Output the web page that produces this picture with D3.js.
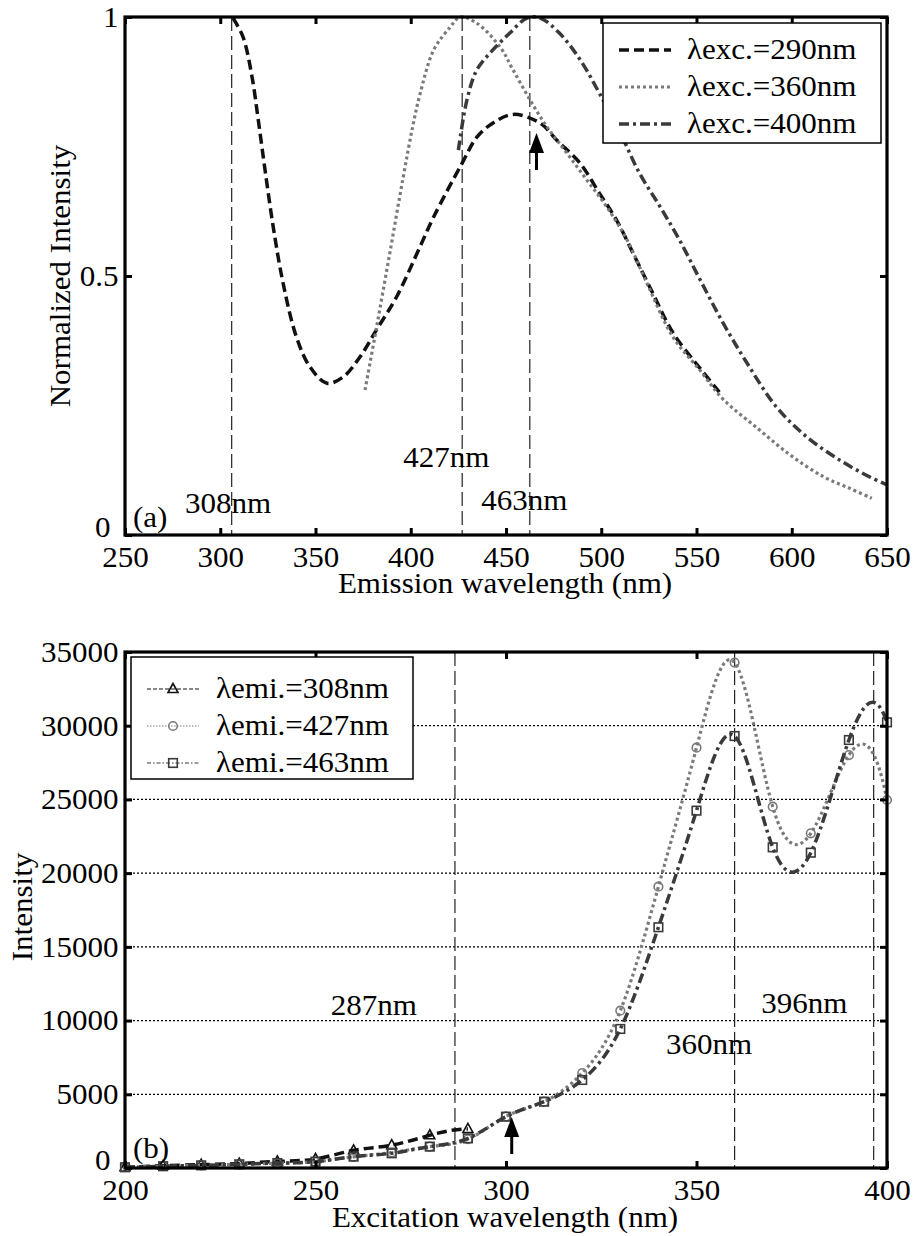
<!DOCTYPE html>
<html>
<head>
<meta charset="utf-8">
<script src="https://cdn.jsdelivr.net/npm/d3@7"></script>
<style>
  body { margin: 0; background: #fff; }
  svg text { font-family: "Liberation Serif", "Times New Roman", serif; fill: #000; }
</style>
</head>
<body>
<svg id="chart" width="915" height="1236"></svg>
<script>
// ---- panel (a): emission spectra, normalized ----
const exc290Wl  = [306.7, 312, 316.7, 320, 323.5, 327.8, 333, 340, 347, 356, 364.5, 373.4, 382, 392.6, 404.8, 412, 427, 434.7, 443, 453.8, 468, 476.7, 488.8, 499, 508, 516.7, 527, 537.7, 551.8, 562];
const exc290Val = [0.998, 0.961, 0.884, 0.80, 0.705, 0.595, 0.486, 0.382, 0.325, 0.293, 0.305, 0.344, 0.396, 0.46, 0.556, 0.614, 0.718, 0.768, 0.795, 0.812, 0.795, 0.762, 0.718, 0.66, 0.608, 0.544, 0.467, 0.39, 0.322, 0.276];

const exc360Wl  = [376, 382, 389, 396, 401, 405, 412, 420.6, 426, 434.7, 446.9, 453.7, 462.6, 471.5, 482, 492.5, 503, 513.5, 524, 537.7, 551.8, 564, 581.7, 599, 616.4, 630.5, 642];
const exc360Val = [0.28, 0.40, 0.544, 0.69, 0.788, 0.853, 0.936, 0.98, 1.0, 0.988, 0.942, 0.898, 0.84, 0.788, 0.737, 0.685, 0.633, 0.57, 0.486, 0.382, 0.318, 0.262, 0.207, 0.155, 0.113, 0.09, 0.071];

const exc400Wl  = [425, 429.5, 434.7, 443, 452, 461, 468, 478, 489, 499, 510, 520, 531, 541, 552, 564, 576.5, 592, 608, 625, 641, 650];
const exc400Val = [0.743, 0.84, 0.898, 0.936, 0.969, 0.998, 0.998, 0.969, 0.917, 0.853, 0.776, 0.699, 0.633, 0.57, 0.492, 0.409, 0.332, 0.247, 0.189, 0.145, 0.112, 0.097];

const emiXTicks = [250, 300, 350, 400, 450, 500, 550, 600, 650];
const emiYTicks = [0, 0.5, 1];
const emiMarks  = [306, 427, 462.5];
const emiMarkLabels = [
  { text: "308nm", wl: 281.5, v: 0.043 },
  { text: "427nm", wl: 396, v: 0.131 },
  { text: "463nm", wl: 437, v: 0.048 }
];
const emiLegend = ["λexc.=290nm", "λexc.=360nm", "λexc.=400nm"];
const emiArrow = { wl: 466, v: 0.776 };

// ---- panel (b): excitation spectra ----
const excWl = [200, 210, 220, 230, 240, 250, 260, 270, 280, 290, 300, 310, 320, 330, 340, 350, 360, 370, 380, 390, 400];
const emi308 = [50, 150, 230, 300, 450, 610, 1200, 1550, 2220, 2650];
const emi427 = [50, 120, 180, 250, 330, 430, 760, 1050, 1450, 1950, 3500, 4500, 6440, 10670, 19080, 28510, 34280, 24510, 22700, 28010, 24960];
const emi463 = [50, 120, 180, 250, 330, 430, 770, 1000, 1450, 2010, 3480, 4500, 5970, 9430, 16330, 24240, 29300, 21750, 21390, 29030, 30230];

const excXTicks = [200, 250, 300, 350, 400];
const excYTicks = [0, 5000, 10000, 15000, 20000, 25000, 30000, 35000];
const excGrid   = [5000, 10000, 15000, 20000, 25000, 30000];
const excMarks  = [286.6, 360, 396.5];
const excMarkLabels = [
  { text: "287nm", wl: 254, v: 10400 },
  { text: "360nm", wl: 342, v: 7700 },
  { text: "396nm", wl: 367, v: 10500 }
];
const excLegend = ["λemi.=308nm", "λemi.=427nm", "λemi.=463nm"];
const excArrow = { wl: 301.5, v: 3460 };

const FS = 29, SX = 1.07;
const svg = d3.select("#chart");

const styles = [
  { color: "#111", width: 3.5, dash: "10,5" },
  { color: "#7a7a7a", width: 3.2, dash: "3,3" },
  { color: "#3a3a3a", width: 3.5, dash: "10,4,3,4" }
];

// cubic spline (not-a-knot ends) as a d3 curve
function curveSpline(context) {
  let pts;
  return {
    areaStart() {}, areaEnd() {},
    lineStart() { pts = []; },
    point(x, y) { pts.push([+x, +y]); },
    lineEnd() {
      const n = pts.length;
      if (n < 4) {
        pts.forEach((p, i) => i ? context.lineTo(p[0], p[1]) : context.moveTo(p[0], p[1]));
        return;
      }
      const xs = pts.map(p => p[0]), ys = pts.map(p => p[1]);
      const h = d3.range(n - 1).map(i => xs[i + 1] - xs[i]);
      const A = d3.range(n).map(() => new Array(n).fill(0));
      const b = new Array(n).fill(0);
      A[0][0] = h[1]; A[0][1] = -(h[0] + h[1]); A[0][2] = h[0];
      A[n - 1][n - 3] = h[n - 2]; A[n - 1][n - 2] = -(h[n - 3] + h[n - 2]); A[n - 1][n - 1] = h[n - 3];
      for (let i = 1; i < n - 1; i++) {
        A[i][i - 1] = h[i - 1];
        A[i][i] = 2 * (h[i - 1] + h[i]);
        A[i][i + 1] = h[i];
        b[i] = 6 * ((ys[i + 1] - ys[i]) / h[i] - (ys[i] - ys[i - 1]) / h[i - 1]);
      }
      // gaussian elimination with partial pivoting
      for (let c = 0; c < n; c++) {
        let p = c;
        for (let r = c + 1; r < n; r++) if (Math.abs(A[r][c]) > Math.abs(A[p][c])) p = r;
        [A[c], A[p]] = [A[p], A[c]]; [b[c], b[p]] = [b[p], b[c]];
        for (let r = c + 1; r < n; r++) {
          const f = A[r][c] / A[c][c];
          if (!f) continue;
          for (let k = c; k < n; k++) A[r][k] -= f * A[c][k];
          b[r] -= f * b[c];
        }
      }
      const M = new Array(n).fill(0);
      for (let r = n - 1; r >= 0; r--) {
        let s = b[r];
        for (let k = r + 1; k < n; k++) s -= A[r][k] * M[k];
        M[r] = s / A[r][r];
      }
      const slope = d3.range(n).map(i => i < n - 1
        ? (ys[i + 1] - ys[i]) / h[i] - h[i] * (2 * M[i] + M[i + 1]) / 6
        : (ys[i] - ys[i - 1]) / h[i - 1] + h[i - 1] * (M[i - 1] + 2 * M[i]) / 6);
      context.moveTo(xs[0], ys[0]);
      for (let i = 0; i < n - 1; i++) {
        const d = h[i] / 3;
        context.bezierCurveTo(xs[i] + d, ys[i] + slope[i] * d,
          xs[i + 1] - d, ys[i + 1] - slope[i + 1] * d, xs[i + 1], ys[i + 1]);
      }
    }
  };
}

function label(g, x, y, text, anchor, rot) {
  return g.append("text")
    .attr("transform", `translate(${x},${y}) rotate(${rot || 0}) scale(${SX},1)`)
    .attr("text-anchor", anchor || "start")
    .attr("font-size", FS)
    .text(text);
}

function frame(g, x, y, w, h, xTicks, yTicks, yFmt) {
  const ax = (sel, axis) => {
    sel.call(axis);
    sel.select(".domain").remove();
    sel.selectAll(".tick line").attr("stroke", "#000").attr("stroke-width", 3);
  };
  const bottom = g.append("g").attr("transform", `translate(0,${h})`);
  ax(bottom, d3.axisBottom(x).tickValues(xTicks).tickSizeInner(-7).tickSizeOuter(0).tickPadding(11).tickFormat(d3.format("d")));
  bottom.selectAll("text").attr("font-size", FS).attr("transform", `scale(${SX},1)`);

  const top = g.append("g");
  ax(top, d3.axisTop(x).tickValues(xTicks).tickSizeInner(-7).tickSizeOuter(0).tickFormat(""));

  const left = g.append("g");
  ax(left, d3.axisLeft(y).tickValues(yTicks).tickSizeInner(-7).tickSizeOuter(0).tickPadding(6).tickFormat(yFmt));
  left.selectAll("text").attr("font-size", FS)
    .attr("transform", d => d === 0 ? `translate(-8,-8) scale(${SX},1)` : `scale(${SX},1)`);

  const right = g.append("g").attr("transform", `translate(${w},0)`);
  ax(right, d3.axisRight(y).tickValues(yTicks).tickSizeInner(-7).tickSizeOuter(0).tickFormat(""));

  g.append("rect").attr("width", w).attr("height", h)
    .attr("fill", "none").attr("stroke", "#000").attr("stroke-width", 3.2);
}

function refLines(g, x, h, marks) {
  g.selectAll(".ref").data(marks).enter().append("line")
    .attr("class", "ref")
    .attr("x1", d => x(d)).attr("x2", d => x(d))
    .attr("y1", 0).attr("y2", h)
    .attr("stroke", "#222").attr("stroke-width", 1.2)
    .attr("stroke-dasharray", "14,5");
}

function arrow(g, px, py) {
  g.append("line").attr("x1", px).attr("x2", px).attr("y1", py + 12).attr("y2", py + 37)
    .attr("stroke", "#000").attr("stroke-width", 3);
  g.append("path").attr("d", `M${px},${py} L${px - 7.5},${py + 20} L${px + 7.5},${py + 20} Z`).attr("fill", "#000");
}

function marker(g, kind, cx, cy, color) {
  if (kind === 0) {
    g.append("path").attr("d", `M${cx},${cy - 5.5} L${cx - 5},${cy + 3.5} L${cx + 5},${cy + 3.5} Z`)
      .attr("fill", "none").attr("stroke", color).attr("stroke-width", 1.6);
  } else if (kind === 1) {
    g.append("circle").attr("cx", cx).attr("cy", cy).attr("r", 4.3)
      .attr("fill", "none").attr("stroke", color).attr("stroke-width", 1.6);
  } else {
    g.append("rect").attr("x", cx - 4.3).attr("y", cy - 4.3).attr("width", 8.6).attr("height", 8.6)
      .attr("fill", "none").attr("stroke", color).attr("stroke-width", 1.6);
  }
}

// ================= panel (a) =================
{
  const m = { left: 125, top: 17 }, w = 762, h = 518;
  const g = svg.append("g").attr("transform", `translate(${m.left},${m.top})`);
  const x = d3.scaleLinear().domain([250, 650]).range([0, w]);
  const y = d3.scaleLinear().domain([0, 1]).range([h, 0]);

  refLines(g, x, h, emiMarks);

  const series = [[exc290Wl, exc290Val], [exc360Wl, exc360Val], [exc400Wl, exc400Val]];
  const line = d3.line().x(d => x(d[0])).y(d => y(d[1])).curve(d3.curveCatmullRom.alpha(0.5));
  series.forEach((s, i) => {
    g.append("path").datum(d3.zip(s[0], s[1]))
      .attr("d", line).attr("fill", "none")
      .attr("stroke", styles[i].color).attr("stroke-width", styles[i].width)
      .attr("stroke-dasharray", styles[i].dash);
  });

  emiMarkLabels.forEach(d => label(g, x(d.wl), y(d.v), d.text));
  label(g, 8, y(0.015), "(a)");
  arrow(g, x(emiArrow.wl), y(emiArrow.v));

  frame(g, x, y, w, h, emiXTicks, emiYTicks, d => d === 0.5 ? "0.5" : d3.format("d")(d));

  // legend
  const lg = g.append("g").attr("transform", "translate(478,6)");
  lg.append("rect").attr("width", 278).attr("height", 120)
    .attr("fill", "#fff").attr("stroke", "#000").attr("stroke-width", 1.5);
  emiLegend.forEach((t, i) => {
    const cy = 27 + i * 37;
    lg.append("line").attr("x1", 16).attr("x2", 68).attr("y1", cy).attr("y2", cy)
      .attr("stroke", styles[i].color).attr("stroke-width", styles[i].width)
      .attr("stroke-dasharray", styles[i].dash);
    label(lg, 84, cy + 9, t);
  });

  label(g, 505 - m.left, 593 - m.top, "Emission wavelength (nm)", "middle");
  label(g, 70 - m.left, 276 - m.top, "Normalized Intensity", "middle", -90);
}

// ================= panel (b) =================
{
  const m = { left: 125, top: 652 }, w = 762, h = 516;
  const g = svg.append("g").attr("transform", `translate(${m.left},${m.top})`);
  const x = d3.scaleLinear().domain([200, 400]).range([0, w]);
  const y = d3.scaleLinear().domain([0, 35000]).range([h, 0]);

  g.selectAll(".grid").data(excGrid).enter().append("line")
    .attr("class", "grid")
    .attr("x1", 0).attr("x2", w)
    .attr("y1", d => y(d)).attr("y2", d => y(d))
    .attr("stroke", "#000").attr("stroke-width", 1.3).attr("stroke-dasharray", "2,2");

  refLines(g, x, h, excMarks);

  const series = [emi308, emi427, emi463];
  const line = d3.line().x(d => x(d[0])).y(d => y(d[1])).curve(curveSpline);
  series.forEach((vals, i) => {
    const pts = d3.zip(excWl.slice(0, vals.length), vals);
    g.append("path").datum(pts)
      .attr("d", line).attr("fill", "none")
      .attr("stroke", styles[i].color).attr("stroke-width", styles[i].width)
      .attr("stroke-dasharray", styles[i].dash);
    pts.forEach(p => marker(g, i, x(p[0]), y(p[1]), styles[i].color));
  });

  excMarkLabels.forEach(d => label(g, x(d.wl), y(d.v), d.text));
  label(g, 8, y(700), "(b)");
  arrow(g, x(excArrow.wl), y(excArrow.v));

  frame(g, x, y, w, h, excXTicks, excYTicks, d3.format("d"));

  // legend
  const lg = g.append("g").attr("transform", "translate(6,5)");
  lg.append("rect").attr("width", 282).attr("height", 122)
    .attr("fill", "#fff").attr("stroke", "#000").attr("stroke-width", 1.5);
  excLegend.forEach((t, i) => {
    const cy = 32 + i * 37;
    lg.append("line").attr("x1", 16).attr("x2", 68).attr("y1", cy).attr("y2", cy)
      .attr("stroke", styles[i].color).attr("stroke-width", 1.2)
      .attr("stroke-dasharray", ["4,2", "1.5,1.5", "4,2,1.5,2"][i]);
    marker(lg, i, 42, cy, styles[i].color);
    label(lg, 85, cy + 9, t);
  });

  label(g, 505 - m.left, 1227 - m.top, "Excitation wavelength (nm)", "middle");
  label(g, 32 - m.left, 907 - m.top, "Intensity", "middle", -90);
}
</script>
</body>
</html>
